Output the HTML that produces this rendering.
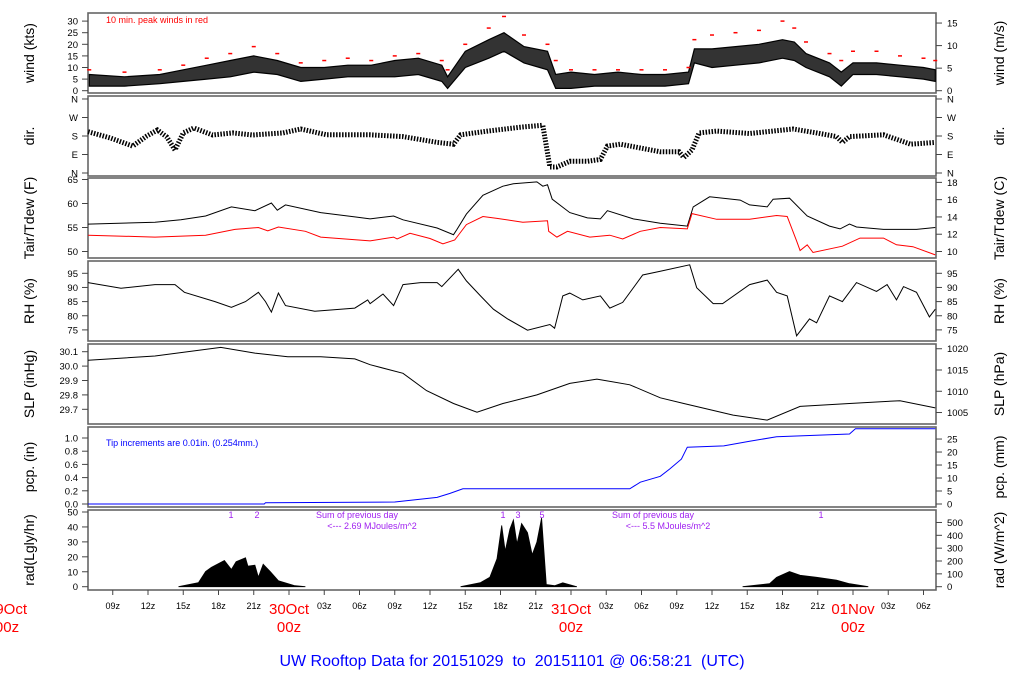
<!DOCTYPE html>
<html><head><meta charset="utf-8"><style>
html,body{margin:0;padding:0;background:#fff;}
svg{display:block;font-family:"Liberation Sans",sans-serif;}
</style></head><body>
<svg id="c" width="1024" height="700" viewBox="0 0 1024 700"></svg>
<script>
// ---- data (hours since 29Oct 00z) ----
const windT=[7,10,13,15,17,19,21,23,25,27,29,31,33,35,37,37.5,39,41,42.3,44,46,46.7,48,50,52,54,56,58,58.5,60,62,64,66,67,68,70,71,72,74,76,78,79];
const windLo=[2,2,3,4,5,6,8,7,4,5,6,6,6,7,4,1,10,14,17,12,9,1,1,2,2,2,2,3,12,10,11,12,14,13,10,6,2,7,7,6,5,4];
const windHi=[7,6,7,9,11,13,15,13,10,10,11,11,13,14,11,6,17,22,25,19,17,7,8,7,8,7,7,8,18,18,19,20,22,21,16,12,8,12,12,11,10,9];
const gust=[9,8,9,11,14,16,19,16,12,13,14,13,15,16,13,9,20,27,32,24,20,13,9,9,9,9,9,10,22,24,25,26,30,27,21,16,13,17,17,15,14,13];
const dirT=[6.9,8.8,10.7,11.9,12.8,13.6,14.3,15,15.9,17.5,19.2,20.9,23.5,25,27.2,29.7,30.9,33.7,36.6,38,38.6,40.9,43.7,45.6,46.2,46.8,47.9,49.4,50.5,51.1,52.2,53.6,55.6,57.2,57.6,58.3,58.9,60.4,63.2,66.9,68.9,70.6,71.1,71.7,74.6,76.9,79];
const dirV=[201,170,131,180,209,175,112,195,219,185,195,185,195,214,186,186,186,177,149,140,186,204,223,232,29,29,57,57,66,131,140,125,103,103,75,112,195,204,192,214,195,177,149,177,186,140,149];
const tairT=[6.9,12.6,14.8,16.9,19.1,21.1,22.5,23,23.7,26.7,29.6,30.9,32.9,33.7,36.6,38,38.3,39.1,40.5,42.2,43.1,45.1,45.6,46,46.4,47.9,49.4,50.5,51.1,53.3,55.6,57.9,58.4,59.8,62.4,63.2,64.7,65.2,66.6,68.1,70,70.9,71.7,72.3,74.6,77.4,79];
const tairV=[55.7,56.1,56.6,57.4,59.3,58.5,60.1,58.6,59.7,58.1,57.2,56.8,57.4,56.6,54.9,53.5,54.6,57.8,61.7,63.6,64.1,64.5,63.6,63.9,60.9,58.1,57.0,56.8,58.5,56.8,55.9,55.3,59.3,61.4,60.7,59.7,59.3,60.9,61.1,57.4,55.3,54.7,55.7,55.1,54.6,54.6,55.0];
const tdewT=[6.9,12.6,16.9,19.4,21.4,22.2,23.1,25.4,26.7,30.9,32.9,33.2,34.3,36,37.1,38.1,39.1,40.5,41.7,43.9,46,46.1,46.8,47.7,49.6,51.3,52.4,53.9,55.6,57.9,58.3,60.4,63.2,65.5,66.4,67.2,67.5,68.1,68.6,71.1,72.6,74.6,75.7,77.1,79];
const tdewV=[53.4,53.0,53.4,54.6,55.0,54.3,55.1,54.2,53.0,52.2,53.0,52.6,53.8,52.7,51.6,52.4,55.6,57.3,56.9,56.1,56.4,54.2,53.0,54.2,53.0,53.4,52.6,54.2,55.0,54.7,57.9,56.7,56.7,57.5,57.3,52.2,50.2,51.4,49.8,51.1,52.8,52.8,51.4,51.0,49.3];
const rhT=[6.9,9.7,12.6,14.3,15.1,17.7,19.1,20.3,21.4,22,22.5,23.1,23.7,26.2,29.6,30.7,30.9,32,32.9,33.7,35.2,36.6,37,38.4,39.1,40.3,41.4,42.6,44.3,46.2,46.6,47.3,47.9,49,50.5,51.3,52.4,54.1,55.6,58.1,58.7,60.1,60.9,63.2,64.7,65.5,66.4,67.2,68.3,68.9,70,71.1,72.3,74,74.9,75.7,76.3,77.4,78.5,79];
const rhV=[91.7,89.7,91.0,91.0,88.3,85.0,83.0,85.0,88.3,85,81.3,88.0,83.6,81.6,82.7,85.6,84.3,87.7,83.6,91.0,91.7,91.7,90.3,96.4,92.3,87.0,82.3,78.9,74.9,76.9,75.6,87.0,88.0,85.6,87.0,82.7,84.7,94.4,95.7,98.0,89.9,84.3,84.3,91.0,92.6,88.3,87.0,72.9,78.9,77.5,87.0,85.0,91.7,88.6,91.0,85.6,90.3,88.3,79.6,82.3];
const slpT=[6.9,12.6,18.2,21.1,23.9,26.7,29.6,30.9,33.7,35.7,38,40,42.2,45.1,47.9,50.2,53,55.6,57.6,61.8,64.7,67.5,71.7,76,79];
const slpV=[30.04,30.07,30.13,30.09,30.065,30.065,30.05,30.01,29.95,29.83,29.74,29.68,29.74,29.80,29.88,29.91,29.87,29.78,29.74,29.66,29.625,29.72,29.74,29.76,29.71];
const pcpT=[6.9,21.9,22,33,36.6,37.7,38.8,53,53.9,55.6,56.4,57.4,57.9,61,63.2,65.5,71.7,72.2,79];
const pcpV=[0,0,0.02,0.03,0.10,0.16,0.23,0.23,0.33,0.42,0.53,0.68,0.86,0.88,0.95,1.02,1.06,1.14,1.14];
const radT=[14.6,16.3,16.9,17.4,18.5,19.1,19.5,20.3,20.5,21.1,21.4,21.8,22.4,23.1,24.5,25.4, 38.6,40.3,41.1,41.7,42.1,42.4,42.8,43.1,43.4,43.8,44.3,44.7,45.1,45.5,45.9,46.6,47.3,48.5, 62.6,64.9,65.5,66.6,67.5,68.9,70.6,71.7,73.3];
const radV=[0,32,118,150,204,134,195,225,160,167,74,175,118,46,8,0, 0,32,74,217,477,276,448,520,333,492,420,248,348,535,17,8,30,0, 0,23,73,118,89,73,51,23,0];
const hourTicks=[9,12,15,18,21,27,30,33,36,39,42,45,51,54,57,60,63,66,69,75,78];
const hourLabels=['09z','12z','15z','18z','21z','03z','06z','09z','12z','15z','18z','21z','03z','06z','09z','12z','15z','18z','21z','03z','06z'];
const dayTicks=[0,24,48,72];
const dayLabels=['29Oct','30Oct','31Oct','01Nov'];

const NS='http://www.w3.org/2000/svg';
const svg=document.getElementById('c');
function el(tag,attrs,parent){const e=document.createElementNS(NS,tag);for(const k in attrs)e.setAttribute(k,attrs[k]);(parent||svg).appendChild(e);return e;}
const X=h=>7+11.75*h;
const L=88,R=936;
const panels=[[13,93],[96,176],[178,258],[261,341],[344,424],[427,507],[510,590]];
const yWind=v=>90.7-2.32*v;
const yDir=v=>173-v*0.2056;
const yT=v=>179.5+(65-v)*4.8;
const yRH=v=>273.3+(95-v)*2.83;
const ySLP=v=>351.7+(30.1-v)*144;
const yPcp=v=>504-v*66;
const yRad=v=>586.7-(v/11.63)*1.494;
function pts(T,V,fy){return T.map((t,i)=>X(t).toFixed(1)+','+fy(V[i]).toFixed(1)).join(' ');}

const pnames=['wind-panel','direction-panel','temperature-panel','humidity-panel','pressure-panel','precip-panel','radiation-panel'];
panels.forEach((p,i)=>{const r=el('rect',{x:L,y:p[0],width:R-L,height:p[1]-p[0],fill:'none',stroke:'#666','stroke-width':1.6});

});

function ticks(side,vals,labels,fy){
  vals.forEach((v,i)=>{const y=fy(v);
    if(side==='L'){el('line',{x1:L-6,x2:L,y1:y,y2:y,stroke:'#444'});
      const t=el('text',{x:L-10,y:y+3.5,'text-anchor':'end','font-size':9.5});t.textContent=labels[i];
      }
    else{el('line',{x1:R,x2:R+6,y1:y,y2:y,stroke:'#444'});
      const t=el('text',{x:R+11,y:y+3.5,'font-size':9.5});t.textContent=labels[i];
      }
  });
}
function ytitle(x,y,s,name){const t=el('text',{x:x,y:y,'font-size':14,'text-anchor':'middle',transform:`rotate(-90 ${x} ${y})`});t.textContent=s;
}

ticks('L',[0,5,10,15,20,25,30],['0','5','10','15','20','25','30'],yWind);
ticks('R',[0,5,10,15],['0','5','10','15'],v=>yWind(v*1.944));
ticks('L',[0,90,180,270,360],['N','E','S','W','N'],yDir);
ticks('R',[0,90,180,270,360],['N','E','S','W','N'],yDir);
ticks('L',[50,55,60,65],['50','55','60','65'],yT);
ticks('R',[10,12,14,16,18],['10','12','14','16','18'],v=>yT(v*1.8+32));
ticks('L',[75,80,85,90,95],['75','80','85','90','95'],yRH);
ticks('R',[75,80,85,90,95],['75','80','85','90','95'],yRH);
ticks('L',[29.7,29.8,29.9,30.0,30.1],['29.7','29.8','29.9','30.0','30.1'],ySLP);
ticks('R',[1005,1010,1015,1020],['1005','1010','1015','1020'],v=>ySLP(v/33.8639));
ticks('L',[0,0.2,0.4,0.6,0.8,1.0],['0.0','0.2','0.4','0.6','0.8','1.0'],yPcp);
ticks('R',[0,5,10,15,20,25],['0','5','10','15','20','25'],v=>yPcp(v/25.4));
ticks('L',[0,10,20,30,40,50],['0','10','20','30','40','50'],v=>yRad(v*11.63));
ticks('R',[0,100,200,300,400,500],['0','100','200','300','400','500'],yRad);

const LT=34,RT=1004;
ytitle(LT,53,'wind (kts)','wind-kts-title');ytitle(RT,53,'wind (m/s)','wind-ms-title');
ytitle(LT,136,'dir.','dir-title');ytitle(RT,136,'dir.','dir-title-right');
ytitle(LT,218,'Tair/Tdew (F)','temp-f-title');ytitle(RT,218,'Tair/Tdew (C)','temp-c-title');
ytitle(LT,301,'RH (%)','rh-title');ytitle(RT,301,'RH (%)','rh-title-right');
ytitle(LT,384,'SLP (inHg)','slp-inhg-title');ytitle(RT,384,'SLP (hPa)','slp-hpa-title');
ytitle(LT,467,'pcp. (in)','pcp-in-title');ytitle(RT,467,'pcp. (mm)','pcp-mm-title');
ytitle(LT,550,'rad(Lgly/hr)','rad-ly-title');ytitle(RT,550,'rad (W/m^2)','rad-w-title');

// wind band
const band=windT.map((t,i)=>X(t).toFixed(1)+','+yWind(windHi[i]).toFixed(1)).concat(windT.slice().reverse().map((t,j)=>{const i=windT.length-1-j;return X(t).toFixed(1)+','+yWind(windLo[i]).toFixed(1);})).join(' ');
const wb=el('polygon',{points:band,fill:'#333',stroke:'#000','stroke-width':1.2});

windT.forEach((t,i)=>{const g=el('line',{x1:X(t)-2,x2:X(t)+2,y1:yWind(gust[i]),y2:yWind(gust[i]),stroke:'#f00','stroke-width':1.5});
});
const wt=el('text',{x:106,y:23,'font-size':9,fill:'#f00'});wt.textContent='10 min. peak winds in red';


// direction
const dl=el('polyline',{points:pts(dirT,dirV,yDir),fill:'none',stroke:'#000','stroke-width':5,'stroke-dasharray':'1.5 1.5'});


const ta=el('polyline',{points:pts(tairT,tairV,yT),fill:'none',stroke:'#000','stroke-width':1});

const td=el('polyline',{points:pts(tdewT,tdewV,yT),fill:'none',stroke:'#f00','stroke-width':1});

const rh=el('polyline',{points:pts(rhT,rhV,yRH),fill:'none',stroke:'#000','stroke-width':1});

const sl=el('polyline',{points:pts(slpT,slpV,ySLP),fill:'none',stroke:'#000','stroke-width':1});

const pc=el('polyline',{points:pts(pcpT,pcpV,yPcp),fill:'none',stroke:'#00f','stroke-width':1});

const pt=el('text',{x:106,y:446,'font-size':9,fill:'#00f'});pt.textContent='Tip increments are 0.01in. (0.254mm.)';


[[0,16],[16,34],[34,43]].forEach(([a,b])=>{const T=radT.slice(a,b),V=radV.slice(a,b);
const p=el('polygon',{points:pts(T,V,yRad),fill:'#000',stroke:'#000','stroke-width':0.8});
});
const purple='#a020f0';
[['1',231],['2',257],['1',503],['3',518],['5',542],['1',821]].forEach(([s,x])=>{const t=el('text',{x:x,y:518,'font-size':9,fill:purple,'text-anchor':'middle'});t.textContent=s;
});
[[357,'Sum of previous day','<--- 2.69 MJoules/m^2'],[653,'Sum of previous day','<--- 5.5 MJoules/m^2']].forEach(([x,a,b])=>{
const t1=el('text',{x:x,y:518,'font-size':9,fill:purple,'text-anchor':'middle'});t1.textContent=a;

const t2=el('text',{x:x+15,y:529,'font-size':9,fill:purple,'text-anchor':'middle'});t2.textContent=b;
});

hourTicks.forEach((h,i)=>{el('line',{x1:X(h),x2:X(h),y1:590,y2:595,stroke:'#444'});
const t=el('text',{x:X(h),y:609,'font-size':9,'text-anchor':'middle'});t.textContent=hourLabels[i];
});
dayTicks.forEach((h,i)=>{if(h>0)el('line',{x1:X(h),x2:X(h),y1:590,y2:595,stroke:'#444'});
const a=el('text',{x:X(h),y:614,'font-size':15,fill:'#f00','text-anchor':'middle'});a.textContent=dayLabels[i];

const b=el('text',{x:X(h),y:632,'font-size':15,fill:'#f00','text-anchor':'middle'});b.textContent='00z';
});
const ti=el('text',{x:512,y:666,'font-size':16,fill:'#00f','text-anchor':'middle',style:'white-space:pre'});ti.textContent='UW Rooftop Data for 20151029  to  20151101 @ 06:58:21  (UTC)';

</script>
</body></html>
